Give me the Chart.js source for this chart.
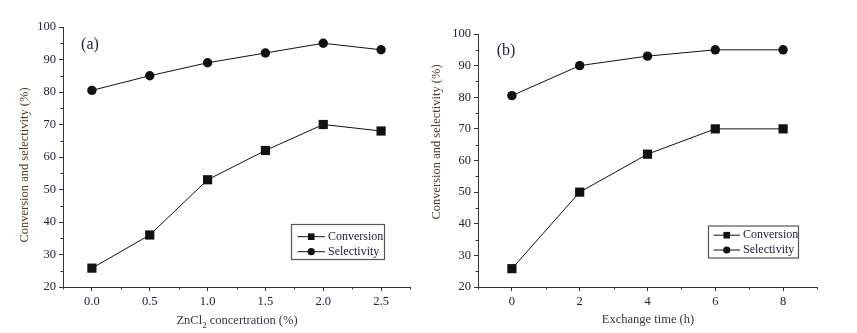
<!DOCTYPE html>
<html>
<head>
<meta charset="utf-8">
<script src="https://cdn.jsdelivr.net/npm/chart.js@4.4.1/dist/chart.umd.min.js"></script>
<style>
    html, body { margin: 0; padding: 0; background: #fff; }
    #wrap { position: relative; width: 857px; height: 333px; }
    .panel { position: absolute; top: 0; height: 333px; }
</style>
</head>
<body>
<div id="wrap">
    <div class="panel" style="left:0;width:430px"><canvas id="chartA"></canvas></div>
    <div class="panel" style="left:430px;width:427px"><canvas id="chartB"></canvas></div>
</div>
<script>
// Datos
const zncl2 = [0, 0.5, 1.0, 1.5, 2.0, 2.5];
const conversionA = [25.8, 36, 53, 62, 70, 68];
const selectivityA = [80.5, 85, 89, 92, 95, 93];

const exchangeTime = [0, 2, 4, 6, 8];
const conversionB = [25.8, 50, 62, 70, 70];
const selectivityB = [80.5, 90, 93, 95, 95];

const yTicks = [20, 30, 40, 50, 60, 70, 80, 90, 100];
const seriesNames = ['Conversion', 'Selectivity'];

const SERIF = '"Liberation Serif", "Times New Roman", serif';
const TICK_COLOR = '#22223f';
const AXIS_COLOR = '#333';

// Textos libres (títulos de ejes, etiqueta del panel), con subíndice opcional
const textosPlugin = {
    id: 'textos',
    afterDraw(chart, args, opts) {
        const ctx = chart.ctx;
        (opts.items || []).forEach(t => {
            ctx.save();
            ctx.translate(t.x, t.y);
            if (t.rot) ctx.rotate(t.rot);
            ctx.fillStyle = t.color;
            ctx.textBaseline = 'middle';
            const fontMain = t.size + 'px ' + SERIF;
            const fontSub = Math.round(t.size * 0.7) + 'px ' + SERIF;
            let total = 0;
            t.parts.forEach(p => {
                ctx.font = p.sub ? fontSub : fontMain;
                total += ctx.measureText(p.s).width;
            });
            let x = -total / 2;
            t.parts.forEach(p => {
                ctx.font = p.sub ? fontSub : fontMain;
                ctx.fillText(p.s, x, p.sub ? t.size * 0.35 : 0);
                x += ctx.measureText(p.s).width;
            });
            ctx.restore();
        });
    }
};

// Ticks menores
const menoresPlugin = {
    id: 'menores',
    afterDraw(chart, args, opts) {
        const ctx = chart.ctx;
        ctx.save();
        ctx.strokeStyle = AXIS_COLOR;
        ctx.lineWidth = 1;
        const xs = chart.scales.x, ys = chart.scales.y;
        const eps = 1e-6;
        for (let v = xs.min; v <= xs.max + eps; v += opts.x) {
            if (xs.ticks.some(t => Math.abs(t.value - v) < eps)) continue;
            const px = Math.round(xs.getPixelForValue(v)) + 0.5;
            ctx.beginPath();
            ctx.moveTo(px, ys.bottom);
            ctx.lineTo(px, ys.bottom + 2.5);
            ctx.stroke();
        }
        for (let v = ys.min; v <= ys.max + eps; v += opts.y) {
            if (ys.ticks.some(t => Math.abs(t.value - v) < eps)) continue;
            const py = Math.round(ys.getPixelForValue(v)) + 0.5;
            ctx.beginPath();
            ctx.moveTo(xs.left, py);
            ctx.lineTo(xs.left - 2.5, py);
            ctx.stroke();
        }
        ctx.restore();
    }
};

// Leyenda con recuadro dentro del área
const leyendaPlugin = {
    id: 'leyendaCaja',
    afterDraw(chart, args, o) {
        const ctx = chart.ctx;
        ctx.save();
        ctx.strokeStyle = '#555';
        ctx.lineWidth = 1.2;
        ctx.strokeRect(o.left + 0.5, o.top + 0.5, o.width, o.height);
        chart.data.datasets.forEach((ds, i) => {
            const y = o.rowY[i];
            ctx.strokeStyle = '#111';
            ctx.lineWidth = 1;
            ctx.beginPath();
            ctx.moveTo(o.lineX1, y);
            ctx.lineTo(o.lineX2, y);
            ctx.stroke();
            const cx = (o.lineX1 + o.lineX2) / 2;
            ctx.fillStyle = '#111';
            ctx.beginPath();
            if (ds.pointStyle === 'rect') ctx.rect(cx - 3.3, y - 3.3, 6.6, 6.6);
            else ctx.arc(cx, y, 3.6, 0, Math.PI * 2);
            ctx.fill();
            ctx.fillStyle = TICK_COLOR;
            ctx.font = '12px ' + SERIF;
            ctx.textBaseline = 'middle';
            ctx.fillText(ds.label, o.textX, y);
        });
        ctx.restore();
    }
};

function serie(label, xs, ys, estilo) {
    return {
        label: label,
        data: xs.map((x, i) => ({ x: x, y: ys[i] })),
        borderColor: '#111',
        backgroundColor: '#111',
        borderWidth: 1,
        pointStyle: estilo,
        pointRadius: estilo === 'rect' ? 6.5 : 4.7,
        pointHoverRadius: estilo === 'rect' ? 6.5 : 4.7,
        pointBorderWidth: 0,
        tension: 0,
        clip: false
    };
}

function opcionesEjes(cfg) {
    const tickFont = { family: SERIF, size: 12.5 };
    return {
        x: {
            type: 'linear',
            min: cfg.xMin,
            max: cfg.xMax,
            afterBuildTicks: s => { s.ticks = cfg.xTicks.map(v => ({ value: v })); },
            afterFit: s => { s.height = 46; },
            ticks: { callback: cfg.xFmt, color: TICK_COLOR, font: tickFont, padding: 3, maxRotation: 0 },
            grid: { drawOnChartArea: false, tickLength: 4, color: AXIS_COLOR },
            border: { color: AXIS_COLOR, width: 1 }
        },
        y: {
            min: 20,
            max: 100,
            afterBuildTicks: s => { s.ticks = yTicks.map(v => ({ value: v })); },
            afterFit: s => { s.width = cfg.yWidth; },
            ticks: { color: TICK_COLOR, font: tickFont, padding: 3 },
            grid: { drawOnChartArea: false, tickLength: 4, color: AXIS_COLOR },
            border: { color: AXIS_COLOR, width: 1 }
        }
    };
}

new Chart(document.getElementById('chartA'), {
    type: 'line',
    data: {
        datasets: [
            serie(seriesNames[0], zncl2, conversionA, 'rect'),
            serie(seriesNames[1], zncl2, selectivityA, 'circle')
        ]
    },
    options: {
        responsive: true,
        maintainAspectRatio: false,
        animation: false,
        layout: { padding: { top: 27, right: 20, left: 0, bottom: 0 } },
        scales: opcionesEjes({ xMin: -0.25, xMax: 2.75, xTicks: zncl2, xFmt: v => v.toFixed(1), yWidth: 63 }),
        plugins: {
            legend: { display: false },
            tooltip: { enabled: false },
            menores: { x: 0.25, y: 5 },
            leyendaCaja: { left: 291, top: 224, width: 93, height: 35, lineX1: 297.5, lineX2: 325, textX: 328, rowY: [236.7, 251.7] },
            textos: {
                items: [
                    { parts: [{ s: 'Conversion and selectivity (%)' }], x: 25, y: 165, rot: -Math.PI / 2, size: 12.5, color: '#4d3d28' },
                    { parts: [{ s: 'ZnCl' }, { s: '2', sub: true }, { s: ' concertration (%)' }], x: 237, y: 321, size: 12.5, color: '#333347' },
                    { parts: [{ s: '(a)' }], x: 90, y: 45, size: 16, color: '#22223f' }
                ]
            }
        }
    },
    plugins: [menoresPlugin, leyendaPlugin, textosPlugin]
});

new Chart(document.getElementById('chartB'), {
    type: 'line',
    data: {
        datasets: [
            serie(seriesNames[0], exchangeTime, conversionB, 'rect'),
            serie(seriesNames[1], exchangeTime, selectivityB, 'circle')
        ]
    },
    options: {
        responsive: true,
        maintainAspectRatio: false,
        animation: false,
        layout: { padding: { top: 34, right: 40, left: 0, bottom: 0 } },
        scales: opcionesEjes({ xMin: -1, xMax: 9, xTicks: exchangeTime, xFmt: v => String(v), yWidth: 48 }),
        plugins: {
            legend: { display: false },
            tooltip: { enabled: false },
            menores: { x: 1, y: 5 },
            leyendaCaja: { left: 278, top: 225.5, width: 90, height: 32, lineX1: 283.5, lineX2: 310, textX: 313, rowY: [235.2, 250] },
            textos: {
                items: [
                    { parts: [{ s: 'Conversion and selectivity (%)' }], x: 7, y: 142, rot: -Math.PI / 2, size: 12.5, color: '#4d3d28' },
                    { parts: [{ s: 'Exchange time (h)' }], x: 218, y: 320, size: 12.5, color: '#333347' },
                    { parts: [{ s: '(b)' }], x: 76, y: 51, size: 16, color: '#22223f' }
                ]
            }
        }
    },
    plugins: [menoresPlugin, leyendaPlugin, textosPlugin]
});
</script>
</body>
</html>
